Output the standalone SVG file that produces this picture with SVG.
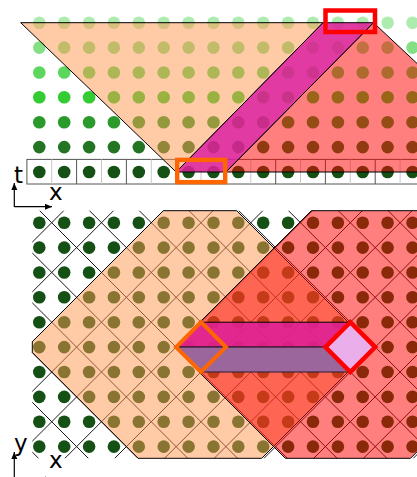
<svg xmlns="http://www.w3.org/2000/svg" width="417" height="477" viewBox="0 0 417 477">
<style>
.edge{stroke:#000;stroke-width:1;stroke-linejoin:round}
.peach{fill:#ff9750;fill-opacity:.5}
.red{fill:#ff0000;fill-opacity:.5}
.mag{fill:#de1f96;fill-opacity:.88}
.lbl{font-family:"DejaVu Sans",sans-serif;font-size:23px;fill:#000}
.ax{stroke:#000;stroke-width:1.2;fill:none}
.grid line{stroke:#1a1a1a;stroke-width:1}
</style>
<defs>
<g id="row">
<circle cx="39.3" cy="0" r="6.3"/><circle cx="64.2" cy="0" r="6.3"/><circle cx="89.1" cy="0" r="6.3"/><circle cx="113.9" cy="0" r="6.3"/><circle cx="138.8" cy="0" r="6.3"/><circle cx="163.7" cy="0" r="6.3"/><circle cx="188.6" cy="0" r="6.3"/><circle cx="213.5" cy="0" r="6.3"/><circle cx="238.3" cy="0" r="6.3"/><circle cx="263.2" cy="0" r="6.3"/><circle cx="288.1" cy="0" r="6.3"/><circle cx="313" cy="0" r="6.3"/><circle cx="337.9" cy="0" r="6.3"/><circle cx="362.7" cy="0" r="6.3"/><circle cx="387.6" cy="0" r="6.3"/><circle cx="412.5" cy="0" r="6.3"/>
</g>
<marker id="ah" markerWidth="8" markerHeight="8" refX="7" refY="4" orient="auto" markerUnits="userSpaceOnUse">
<path d="M0,1 L7,4 L0,7 Z" fill="#000"/>
</marker>
<clipPath id="bclip"><rect x="32.3" y="210.7" width="400" height="247.6"/></clipPath>
</defs>

<!-- ===== Top panel (1+1D) ===== -->
<g id="cells">
<rect x="26.9" y="159.4" width="400" height="24.6" fill="#fff" stroke="#555" stroke-width="1"/>
<g stroke="#c8c8c8" stroke-width="1">
<line x1="51.7" y1="159.4" x2="51.7" y2="184"/><line x1="101.5" y1="159.4" x2="101.5" y2="184"/><line x1="151.3" y1="159.4" x2="151.3" y2="184"/><line x1="201" y1="159.4" x2="201" y2="184"/><line x1="250.8" y1="159.4" x2="250.8" y2="184"/><line x1="300.5" y1="159.4" x2="300.5" y2="184"/><line x1="350.3" y1="159.4" x2="350.3" y2="184"/><line x1="400.1" y1="159.4" x2="400.1" y2="184"/>
</g>
<g stroke="#555" stroke-width="1">
<line x1="76.6" y1="159.4" x2="76.6" y2="184"/><line x1="126.4" y1="159.4" x2="126.4" y2="184"/><line x1="176.1" y1="159.4" x2="176.1" y2="184"/><line x1="225.9" y1="159.4" x2="225.9" y2="184"/><line x1="275.7" y1="159.4" x2="275.7" y2="184"/><line x1="325.4" y1="159.4" x2="325.4" y2="184"/><line x1="375.2" y1="159.4" x2="375.2" y2="184"/>
</g>
</g>
<g id="top-dots">
<use href="#row" y="22.7" fill="#aeebae"/>
<use href="#row" y="47.6" fill="#85e085"/>
<use href="#row" y="72.5" fill="#5cd65c"/>
<use href="#row" y="97.3" fill="#33cc33"/>
<use href="#row" y="122.2" fill="#2a9a2a"/>
<use href="#row" y="147.1" fill="#237523"/>
<use href="#row" y="172" fill="#155015"/>
</g>
<g id="past-cone"><polygon class="peach edge" points="20.7,22.7 323,22.7 176.1,172"/></g>
<g id="future-cone"><polygon class="red edge" points="225.9,172 373.5,22.7 533,172"/></g>
<g id="band"><polygon class="mag edge" points="176.1,172 225.9,172 373.5,22.7 323,22.7"/></g>
<g id="orange-cell"><rect x="177.2" y="159.9" width="48" height="22.2" fill="none" stroke="#ff6600" stroke-width="4.4"/></g>
<g id="red-cell"><rect x="325.5" y="10.5" width="49.5" height="21.5" fill="none" stroke="#ff0000" stroke-width="4.5"/></g>
<g id="axes-top">
<path class="ax" d="M14.3,207 V183" marker-end="url(#ah)"/>
<path class="ax" d="M14.3,206.7 H52" marker-end="url(#ah)"/>
<text class="lbl" x="14" y="183">t</text>
<text class="lbl" x="49" y="199.5">x</text>
</g>

<!-- ===== Bottom panel (2D) ===== -->
<g id="bottom-dots" fill="#155015">
<use href="#row" y="222.7"/><use href="#row" y="247.6"/><use href="#row" y="272.5"/><use href="#row" y="297.3"/><use href="#row" y="322.2"/><use href="#row" y="347.1"/><use href="#row" y="372"/><use href="#row" y="396.9"/><use href="#row" y="421.7"/><use href="#row" y="446.6"/>
</g>
<g id="grid" class="grid" clip-path="url(#bclip)">
<line x1="74.4" y1="200" x2="-195.6" y2="470"/>
<line x1="124.2" y1="200" x2="-145.8" y2="470"/>
<line x1="174" y1="200" x2="-96" y2="470"/>
<line x1="223.7" y1="200" x2="-46.3" y2="470"/>
<line x1="273.5" y1="200" x2="3.5" y2="470"/>
<line x1="323.2" y1="200" x2="53.2" y2="470"/>
<line x1="373" y1="200" x2="103" y2="470"/>
<line x1="422.8" y1="200" x2="152.8" y2="470"/>
<line x1="472.5" y1="200" x2="202.5" y2="470"/>
<line x1="522.3" y1="200" x2="252.3" y2="470"/>
<line x1="572" y1="200" x2="302" y2="470"/>
<line x1="621.8" y1="200" x2="351.8" y2="470"/>
<line x1="671.6" y1="200" x2="401.6" y2="470"/>
<line x1="-219.8" y1="200" x2="50.2" y2="470"/>
<line x1="-170" y1="200" x2="100" y2="470"/>
<line x1="-120.2" y1="200" x2="149.8" y2="470"/>
<line x1="-70.5" y1="200" x2="199.5" y2="470"/>
<line x1="-20.7" y1="200" x2="249.3" y2="470"/>
<line x1="29" y1="200" x2="299" y2="470"/>
<line x1="78.8" y1="200" x2="348.8" y2="470"/>
<line x1="128.6" y1="200" x2="398.6" y2="470"/>
<line x1="178.3" y1="200" x2="448.3" y2="470"/>
<line x1="228.1" y1="200" x2="498.1" y2="470"/>
<line x1="277.8" y1="200" x2="547.8" y2="470"/>
<line x1="327.6" y1="200" x2="597.6" y2="470"/>
<line x1="377.4" y1="200" x2="647.4" y2="470"/>
</g>
<g id="past-region"><polygon class="peach edge" points="32.3,341.7 163.3,210.7 236.7,210.7 373,347 261.7,458.3 138,458.3 32.3,352.6"/></g>
<g id="future-region"><polygon class="red edge" points="174.5,347.5 311.3,210.7 425,210.7 425,443.8 410.5,458.3 285.3,458.3"/></g>
<g id="band-upper"><polygon class="mag edge" points="176.1,347.1 201,322.2 350.3,322.2 375.2,347.1"/></g>
<g id="band-lower"><polygon points="176.1,347.1 375.2,347.1 350.3,372 201,372" fill="#9b669c" stroke="#2a1a2a" stroke-width="1"/></g>
<g id="red-diamond"><polygon points="325.4,347.1 350.3,322.2 375.2,347.1 350.3,372" fill="#eaaeea" stroke="#ff0000" stroke-width="4.5" stroke-linejoin="miter"/></g>
<g id="orange-diamond"><polygon points="176.1,347.1 201,322.2 225.9,347.1 201,372" fill="none" stroke="#ff6600" stroke-width="4" stroke-linejoin="miter"/></g>
<g id="axes-bottom">
<path class="ax" d="M14.3,480 V452" marker-end="url(#ah)"/>
<path class="ax" d="M14.3,479.5 H52" marker-end="url(#ah)"/>
<text class="lbl" x="14" y="451">y</text>
<text class="lbl" x="49" y="468">x</text>
</g>
</svg>
